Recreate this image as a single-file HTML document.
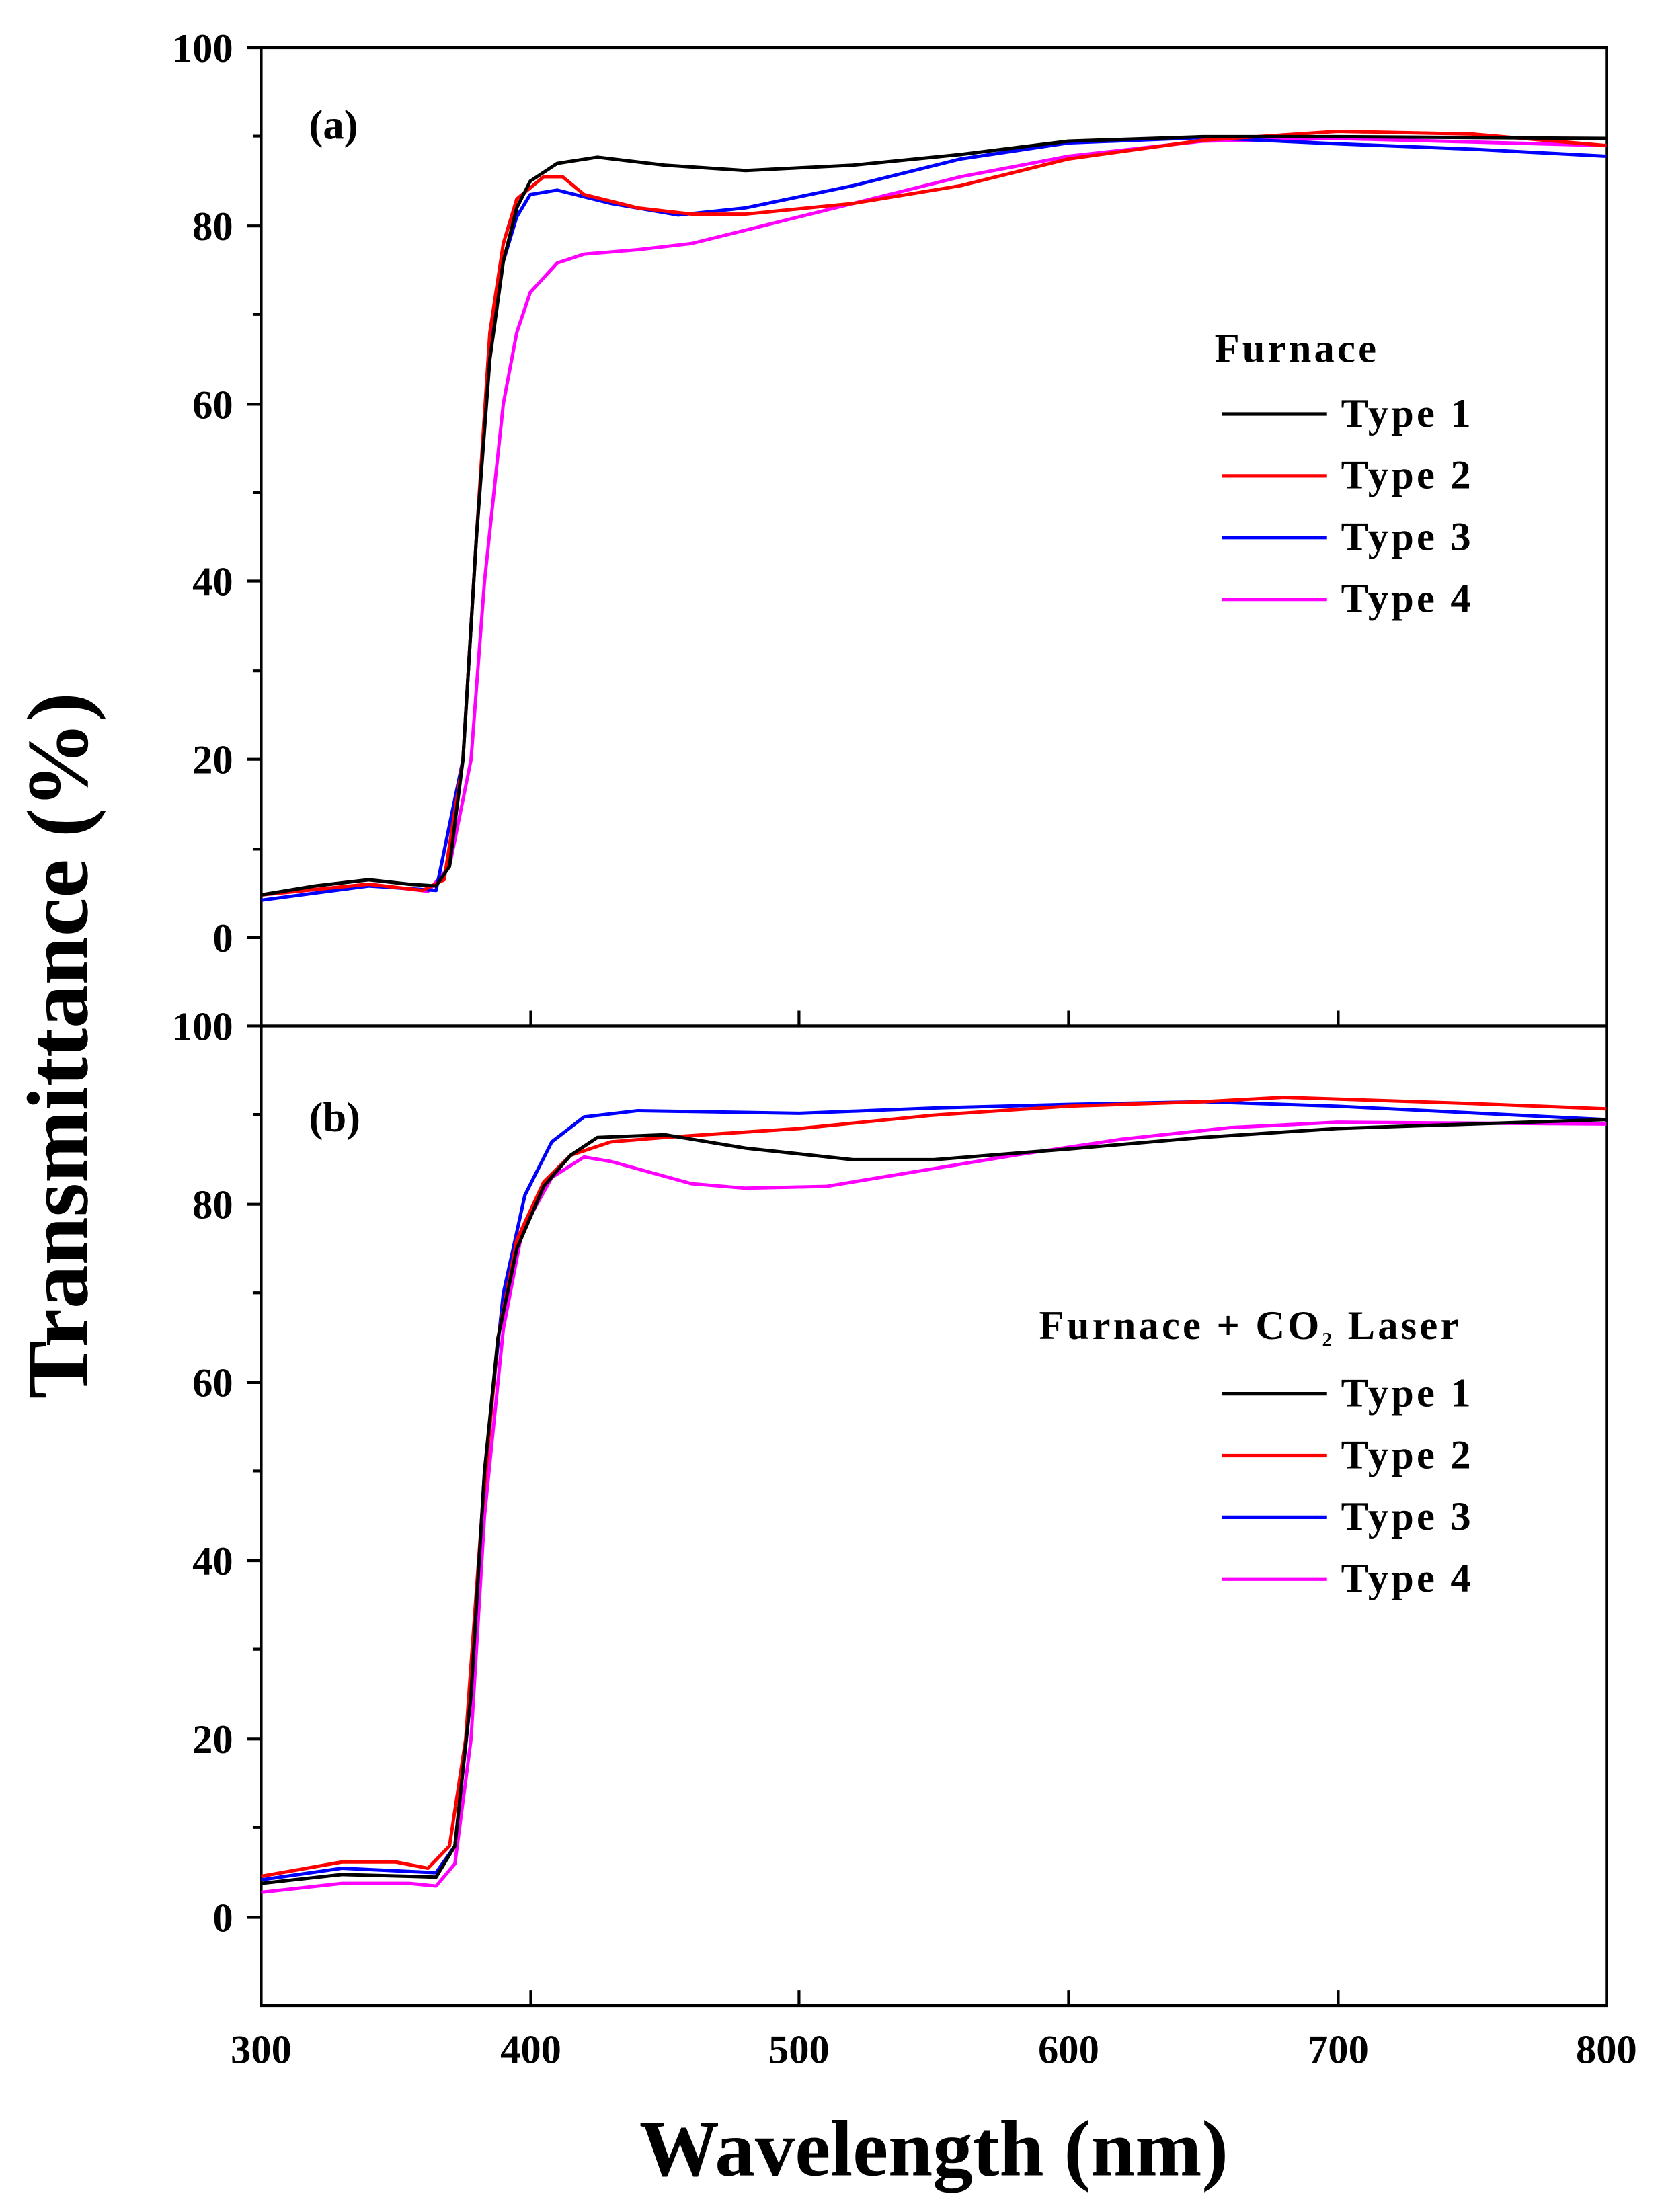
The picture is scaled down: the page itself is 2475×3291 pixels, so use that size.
<!DOCTYPE html>
<html><head><style>html,body{margin:0;padding:0;background:#fff}svg{display:block}</style></head>
<body>
<svg width="2475" height="3291" viewBox="0 0 1185 1576" preserveAspectRatio="none" xmlns="http://www.w3.org/2000/svg" font-family="Liberation Serif, serif" font-weight="bold">
<rect width="1185" height="1576" fill="#fff"/>
<g stroke="#000" stroke-width="2" fill="none">
<rect x="186" y="34" width="958" height="697"/>
<rect x="186" y="731" width="958" height="698"/>
<path d="M176 34H186M176 161H186M176 288H186M176 414H186M176 541H186M176 668H186M180 97H186M180 224H186M180 351H186M180 478H186M180 605H186"/>
<path d="M176 731H186M176 858H186M176 985H186M176 1112H186M176 1239H186M176 1366H186M180 794H186M180 921H186M180 1048H186M180 1175H186M180 1302H186"/>
<path d="M378 731V720M569 731V720M761 731V720M953 731V720M378 1429V1418M569 1429V1418M761 1429V1418M953 1429V1418"/>
</g>
<g font-size="29" text-anchor="end">
<text x="166" y="44">100</text><text x="166" y="171">80</text><text x="166" y="298">60</text><text x="166" y="424">40</text><text x="166" y="551">20</text><text x="166" y="678">0</text>
<text x="166" y="741">100</text><text x="166" y="868">80</text><text x="166" y="995">60</text><text x="166" y="1122">40</text><text x="166" y="1249">20</text><text x="166" y="1376">0</text>
</g>
<g font-size="29" text-anchor="middle">
<text x="186" y="1470">300</text><text x="378" y="1470">400</text><text x="569" y="1470">500</text><text x="761" y="1470">600</text><text x="953" y="1470">700</text><text x="1144" y="1470">800</text>
</g>
<text x="665" y="1550" font-size="57" text-anchor="middle">Wavelength (nm)</text>
<text transform="translate(62,745) rotate(-90)" font-size="62" text-anchor="middle">Transmittance (%)</text>
<text x="220" y="99" font-size="30">(a)</text>
<text x="220" y="806" font-size="30">(b)</text>
<g font-size="29" letter-spacing="2">
<text x="865" y="258">Furnace</text>
<text x="955" y="304">Type 1</text><text x="955" y="348">Type 2</text><text x="955" y="392">Type 3</text><text x="955" y="436">Type 4</text>
<text x="740" y="954">Furnace + CO<tspan font-size="14" dy="5">2</tspan><tspan dy="-5"> Laser</tspan></text>
<text x="955" y="1002">Type 1</text><text x="955" y="1046">Type 2</text><text x="955" y="1090">Type 3</text><text x="955" y="1134">Type 4</text>
</g>
<g stroke-width="2.5">
<path d="M870 295H945" stroke="#000"/><path d="M870 339H945" stroke="#f00"/><path d="M870 383H945" stroke="#00f"/><path d="M870 427H945" stroke="#f0f"/>
<path d="M870 993H945" stroke="#000"/><path d="M870 1037H945" stroke="#f00"/><path d="M870 1081H945" stroke="#00f"/><path d="M870 1125H945" stroke="#f0f"/>
</g>
<g transform="translate(-388.8,668) scale(1.916,-6.34)" fill="none" stroke-linejoin="round">
<polyline vector-effect="non-scaling-stroke" stroke-width="5" stroke="#f0f" points="300,4.8 340,6 362,5.2 370,8 378,20 383,40 390,60 395,68 400,72.5 410,75.8 420,76.8 440,77.3 460,78 480,79.5 520,82.5 560,85.5 600,87.8 650,89.5 700,89.8 800,89"/>
<polyline vector-effect="non-scaling-stroke" stroke-width="5" stroke="#00f" points="300,4.2 340,5.8 365,5.3 375,20 380,45 385,66 390,76 395,81 400,83.5 410,84 430,82.5 455,81.2 480,82 520,84.5 560,87.5 600,89.3 650,89.9 700,89.2 750,88.6 800,87.8"/>
<polyline vector-effect="non-scaling-stroke" stroke-width="5" stroke="#f00" points="300,4.8 340,6 360,5.3 368,6.5 375,20 380,45 385,68 390,78 395,83 405,85.5 412,85.5 420,83.5 440,82 460,81.3 480,81.3 520,82.5 560,84.5 600,87.5 650,89.6 700,90.6 750,90.3 800,89"/>
<polyline vector-effect="non-scaling-stroke" stroke-width="5" stroke="#000" points="300,4.8 320,5.8 340,6.5 355,6 365,5.8 370,8 375,20 380,45 385,65 390,76 395,82 400,85 410,87 425,87.7 450,86.8 480,86.2 520,86.8 560,88 600,89.5 650,90 700,90 800,89.8"/>
</g>
<g transform="translate(-388.8,1366) scale(1.916,-6.35)" fill="none" stroke-linejoin="round">
<polyline vector-effect="non-scaling-stroke" stroke-width="5" stroke="#f0f" points="300,2.8 330,3.8 355,3.8 365,3.5 372,6 378,20 383,45 390,66 397,77 408,83 420,85.3 430,84.8 460,82.3 480,81.8 510,82 540,83.5 580,85.5 620,87.3 660,88.6 700,89.2 800,89"/>
<polyline vector-effect="non-scaling-stroke" stroke-width="5" stroke="#00f" points="300,4.2 330,5.5 365,5 372,8 378,25 383,50 390,70 398,81 408,87 420,89.8 440,90.5 500,90.2 550,90.8 600,91.2 650,91.5 700,91 800,89.5"/>
<polyline vector-effect="non-scaling-stroke" stroke-width="5" stroke="#f00" points="300,4.6 330,6.2 350,6.2 362,5.5 370,8 376,20 382,45 388,65 395,76 405,82.5 415,85.5 430,87 450,87.5 500,88.5 550,90 600,91 650,91.5 680,92 750,91.3 800,90.7"/>
<polyline vector-effect="non-scaling-stroke" stroke-width="5" stroke="#000" points="300,3.8 330,4.8 355,4.6 365,4.5 372,8 378,25 383,50 388,65 395,75 405,82 415,85.5 425,87.5 450,87.8 480,86.3 520,85 550,85 600,86.2 650,87.5 700,88.5 800,89.5"/>
</g>
</svg>
</body></html>
